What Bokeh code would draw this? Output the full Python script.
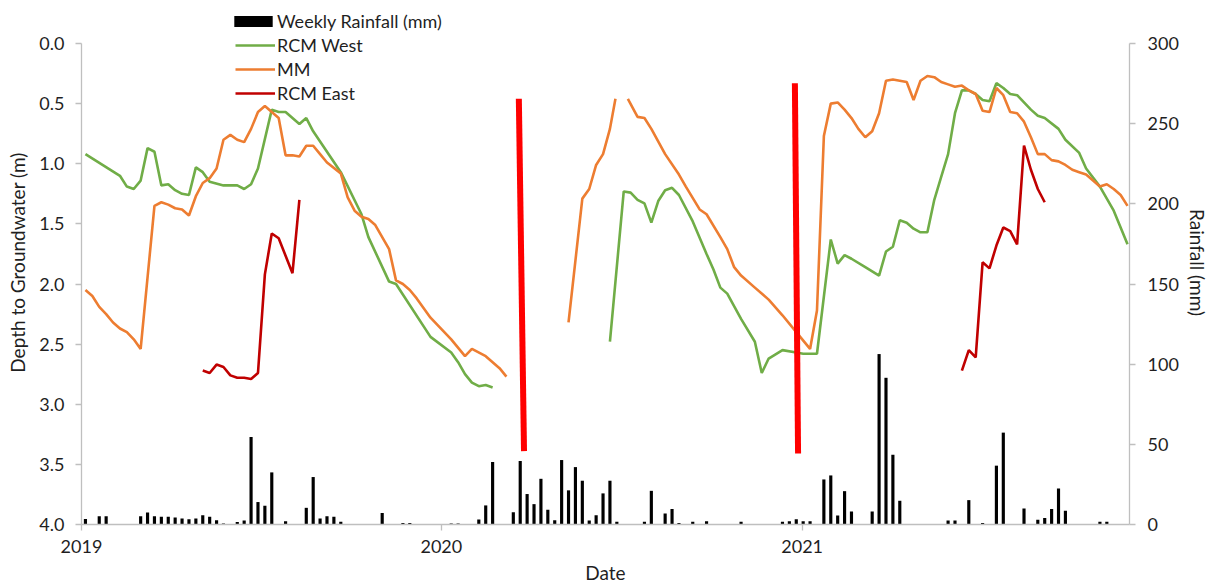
import numpy as np
import pandas as pd
from bokeh.plotting import figure
from bokeh.models import (Range1d, LinearAxis, FixedTicker, DatetimeTickFormatter,
                          NumeralTickFormatter, Legend, LegendItem)
from bokeh.embed import file_html
from bokeh.resources import INLINE

# ---------------- data ----------------
# weekly grid: week 0 = 2019-01-05
week_start = "2019-01-05"

rain_week = [0, 2, 3, 8, 9, 10, 11, 12, 13, 14, 15, 16, 17, 18, 19, 20,
             22, 23, 24, 25, 26, 27, 29, 32, 33, 34, 35, 36, 37, 43, 46, 47,
             53, 54, 57, 58, 59, 62, 63, 64, 65, 66, 67, 68, 69, 70, 71, 72,
             73, 74, 75, 76, 77, 81, 82, 84, 85, 86, 88, 90, 95, 101, 102,
             103, 104, 105, 107, 108, 109, 110, 111, 114, 115, 116, 117, 118,
             125, 126, 128, 130, 132, 133, 136, 138, 139, 140, 141, 142, 147, 148]
rain_mm = [3.5, 5.2, 5.2, 5.2, 7.5, 5.2, 4.8, 4.8, 4.4, 3.8, 3.3, 3.8, 5.8, 4.8, 2.7, 0.6,
           1.5, 2.5, 54.6, 14, 11.7, 32.5, 2.1, 10.4, 29.6, 3.8, 5.2, 4.8, 1.7, 7.1, 1, 1,
           0.6, 0.6, 3.1, 11.9, 39, 7.7, 39.6, 19, 12.7, 28.5, 9.2, 2.7, 40.2, 21.3, 35.8, 27.3,
           2.5, 5.8, 19.4, 27.3, 1.7, 1.7, 21, 6.9, 9.6, 1, 1.7, 2.1, 1.7, 1.7, 2.1,
           3.3, 2.1, 2.1, 28.1, 30.6, 5.6, 20.8, 8.1, 8.1, 106.3, 91.5, 43.5, 14.8,
           2.5, 2.5, 15.2, 1, 36.7, 57.3, 10, 2.9, 4, 9.6, 22.5, 8.5, 1.7, 1.7]

NA = float("nan")

west_week = [0, 5, 6, 7, 8, 9, 10, 11, 12, 13, 14, 15, 16, 17, 18, 20, 21, 22, 23, 24, 25,
             27, 28, 29, 31, 32, 33, 37, 40, 41, 44, 45, 50, 53, 54, 55, 56, 57, 58, 59,
             68,
             76, 78, 79, 80, 81, 82, 83, 84, 85, 86, 88, 90, 91, 92, 93, 95, 97, 98, 99,
             101, 103, 104, 106, 108, 109, 110, 111, 113, 115, 116, 117, 118, 119, 120,
             121, 122, 123, 124, 125, 126, 127, 128, 129, 130, 131, 132, 133, 134, 135,
             137, 138, 139, 141, 142, 144, 145, 147, 149, 151]
west_depth = [0.92, 1.10, 1.19, 1.21, 1.14, 0.87, 0.90, 1.18, 1.17, 1.22, 1.25, 1.26, 1.03,
              1.07, 1.15, 1.18, 1.18, 1.18, 1.21, 1.17, 1.04,
              0.55, 0.57, 0.57, 0.67, 0.62, 0.73, 1.07, 1.42, 1.61, 1.98, 2.00, 2.44, 2.57,
              2.65, 2.75, 2.82, 2.85, 2.84, 2.86,
              NA,
              2.48, 1.23, 1.24, 1.30, 1.33, 1.49, 1.31, 1.22, 1.20, 1.26, 1.48, 1.75, 1.88,
              2.03, 2.08, 2.29, 2.48, 2.74, 2.62,
              2.55, 2.57, 2.58, 2.58, 1.63, 1.83, 1.76, 1.79, 1.86, 1.93, 1.73, 1.69, 1.47,
              1.49, 1.54, 1.57, 1.57, 1.30, 1.11, 0.92, 0.58, 0.39, 0.39, 0.42, 0.47, 0.48,
              0.33, 0.37, 0.42, 0.43,
              0.55, 0.60, 0.62, 0.71, 0.80, 0.91, 1.04, 1.19, 1.39, 1.67]

mm_week = [0, 1, 2, 3, 4, 5, 6, 7, 8, 10, 11, 12, 13, 14, 15, 16, 17, 18, 19, 20, 21, 22,
           23, 24, 25, 26, 27, 28, 29, 30, 31, 32, 33, 34, 35, 37, 38, 39, 40, 41, 42, 44,
           45, 46, 47, 48, 50, 53, 55, 56, 58, 60, 61,
           65,
           70, 72, 73, 74, 75, 76, 76.8,
           77.7,
           78.6, 80, 81, 82, 84, 86, 87, 89, 90, 92, 93, 94, 95, 97, 99, 101, 103, 105,
           106, 107, 108, 109, 110, 111, 112, 113, 114, 115, 116, 117, 118, 119, 120,
           121, 122, 123, 124, 125, 126, 127, 128, 129, 130, 131, 132, 133, 134, 135,
           136, 137, 138, 139, 140, 141, 142, 143, 144, 145, 146, 147, 148, 149, 150, 151]
mm_depth = [2.05, 2.10, 2.19, 2.25, 2.32, 2.37, 2.40, 2.46, 2.54, 1.35, 1.32, 1.34, 1.37,
            1.38, 1.43, 1.27, 1.16, 1.12, 1.04, 0.80, 0.76, 0.80,
            0.82, 0.71, 0.57, 0.52, 0.57, 0.62, 0.93, 0.93, 0.94, 0.85, 0.85, 0.92, 0.99,
            1.08, 1.28, 1.39, 1.44, 1.46, 1.51, 1.71,
            1.97, 2.00, 2.05, 2.12, 2.28, 2.46, 2.60, 2.54, 2.60, 2.70, 2.77,
            NA,
            2.32, 1.29, 1.21, 1.01, 0.92, 0.71, 0.46,
            NA,
            0.46, 0.61, 0.62, 0.71, 0.92, 1.09, 1.19, 1.38, 1.42, 1.61, 1.71, 1.86, 1.93,
            2.03, 2.13, 2.26, 2.40, 2.54,
            2.22, 0.77, 0.50, 0.49, 0.55, 0.62, 0.71, 0.78, 0.73, 0.58, 0.31, 0.30, 0.31,
            0.32, 0.47,
            0.31, 0.27, 0.28, 0.32, 0.34, 0.36, 0.35, 0.39, 0.42, 0.56, 0.57, 0.37, 0.43,
            0.57, 0.58,
            0.65, 0.78, 0.92, 0.92, 0.97, 0.98, 1.01, 1.05, 1.07, 1.09, 1.14, 1.19, 1.17,
            1.21, 1.26, 1.35]

east_week = [17, 18, 19, 20, 21, 22, 23, 24, 25, 26, 27, 28, 30, 31,
             80,
             127, 128, 129, 130, 131, 132, 133, 134, 135, 136, 137, 138, 139]
east_depth = [2.72, 2.74, 2.67, 2.69, 2.76, 2.78, 2.78, 2.79, 2.74, 1.92, 1.58, 1.62, 1.91, 1.30,
              NA,
              2.72, 2.55, 2.61, 1.82, 1.87, 1.68, 1.53, 1.56, 1.67, 0.85, 1.05, 1.21, 1.32]

# hand-drawn red marker lines (week, depth) top -> bottom
marker_week_top = [62.8, 102.8]
marker_depth_top = [0.46, 0.33]
marker_week_bottom = [63.55, 103.26]
marker_depth_bottom = [3.39, 3.41]

year_ticks = ["2019-01-01", "2020-01-01", "2021-01-01"]
depth_ticks = [0.0, 0.5, 1.0, 1.5, 2.0, 2.5, 3.0, 3.5, 4.0]
rain_ticks = [0, 50, 100, 150, 200, 250, 300]
depth_min, depth_max = 0.0, 4.0
rain_min, rain_max = 0, 300
x_start, x_end = "2019-01-01", "2021-11-29"

# ---------------- layout ----------------
W, H = 1211, 588
LEFT, RIGHT, BOTTOM = 81, 81, 64
AXIS_TOP = 43          # pixel row of depth 0.0 / rain 300; frame runs to the top so the legend is not clipped
frame_h = H - BOTTOM
axis_h = frame_h - AXIS_TOP
d_top = depth_min - (depth_max - depth_min) * AXIS_TOP / axis_h
r_top = rain_max + (rain_max - rain_min) * AXIS_TOP / axis_h

t0 = pd.Timestamp(week_start)
def wk(w):
    return t0 + pd.to_timedelta(np.asarray(w, dtype=float) * 7.0, unit="D")

FONT = "Lato"
TXT = "#1f1f1f"
AX = "#BFBFBF"

p = figure(width=W, height=H, x_axis_type="datetime",
           x_range=Range1d(pd.Timestamp(x_start), pd.Timestamp(x_end)),
           y_range=Range1d(depth_max, d_top),
           output_backend="svg", toolbar_location=None,
           min_border_left=LEFT, min_border_right=RIGHT, min_border_top=0,
           min_border_bottom=BOTTOM)
p.extra_y_ranges = {"rain": Range1d(rain_min, r_top)}
p.outline_line_color = None
p.xgrid.visible = False
p.ygrid.visible = False
p.background_fill_color = "white"
p.border_fill_color = "white"

bars = p.vbar(x=wk(rain_week), top=rain_mm, bottom=0, width=3.2 * 86400000,
              y_range_name="rain", fill_color="black", line_color=None)
lw = 2.6
l_west = p.line(wk(west_week), west_depth, line_color="#70AD47", line_width=lw)
l_mm = p.line(wk(mm_week), mm_depth, line_color="#ED7D31", line_width=lw)
l_east = p.line(wk(east_week), east_depth, line_color="#C00000", line_width=lw)

p.segment(x0=wk(marker_week_top), y0=marker_depth_top,
          x1=wk(marker_week_bottom), y1=marker_depth_bottom,
          line_color="#FF0000", line_width=6)

# axes
xa = p.xaxis[0]
xa.ticker = FixedTicker(ticks=[pd.Timestamp(t).value / 1e6 for t in year_ticks])
fmt = "%Y"
xa.formatter = DatetimeTickFormatter(microseconds=fmt, milliseconds=fmt, seconds=fmt,
                                     minsec=fmt, minutes=fmt, hourmin=fmt, hours=fmt,
                                     days=fmt, months=fmt, years=fmt)
xa.axis_label = "Date"

ya = p.yaxis[0]
ya.ticker = FixedTicker(ticks=depth_ticks)
ya.formatter = NumeralTickFormatter(format="0.0")
ya.axis_label = "Depth to Groundwater (m)"
ya.bounds = (depth_min, depth_max)

ra = LinearAxis(y_range_name="rain", ticker=FixedTicker(ticks=rain_ticks),
                axis_label="Rainfall (mm)", bounds=(rain_min, rain_max))
p.add_layout(ra, "right")

for ax in (xa, ya, ra):
    ax.axis_line_color = AX
    ax.axis_line_width = 1.3
    ax.major_tick_line_color = AX
    ax.major_tick_line_width = 1.3
    ax.major_tick_in = 0
    ax.major_tick_out = 6
    ax.minor_tick_line_color = None
    ax.major_label_text_font = FONT
    ax.major_label_text_font_size = "18px"
    ax.major_label_text_color = TXT
    ax.axis_label_text_font = FONT
    ax.axis_label_text_font_size = "19px"
    ax.axis_label_text_font_style = "normal"
    ax.axis_label_text_color = TXT
xa.major_label_standoff = 9
xa.axis_label_standoff = 5
ya.major_label_standoff = 11
ya.axis_label_standoff = 7
ra.major_label_standoff = 12
ra.axis_label_standoff = 4

common = dict(orientation="vertical", label_text_font=FONT, label_text_font_size="18px",
              label_text_color=TXT, padding=0, margin=0,
              border_line_alpha=0, background_fill_alpha=0)

legend_bar = Legend(items=[LegendItem(label="Weekly Rainfall (mm)", renderers=[bars])],
                    location=(148, 492), glyph_width=48, glyph_height=14,
                    label_height=20, label_standoff=0, spacing=0, **common)
legend_lines = Legend(items=[LegendItem(label="RCM West", renderers=[l_west]),
                             LegendItem(label="MM", renderers=[l_mm]),
                             LegendItem(label="RCM East", renderers=[l_east])],
                      location=(154, 420), glyph_width=40, glyph_height=20,
                      label_height=20, label_standoff=2, spacing=2, **common)
p.add_layout(legend_bar)
p.add_layout(legend_lines)

open("out.html", "w").write(file_html(p, INLINE))
